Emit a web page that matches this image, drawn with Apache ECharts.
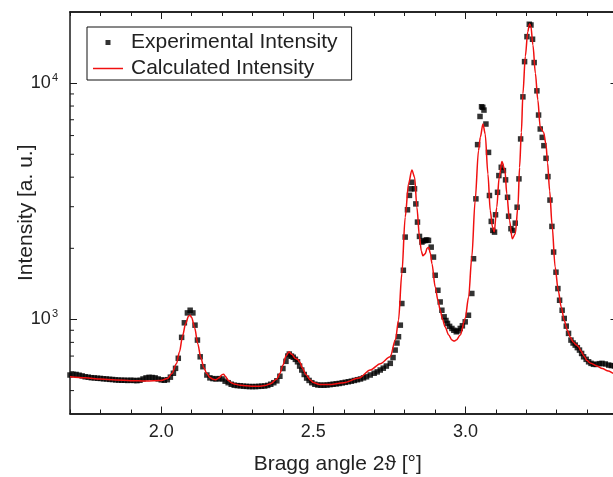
<!DOCTYPE html>
<html><head><meta charset="utf-8">
<script src="https://cdn.jsdelivr.net/npm/echarts@6/dist/echarts.min.js"></script>
<style>html,body{margin:0;padding:0;background:#fff}#c{width:613px;height:477px}</style>
</head><body><div id="c"></div>
<script>
const xMin = 1.7, xMax = 3.5, yMin = 400, yMax = 20000;
const xMajorTicks = [2.0, 2.5, 3.0, 3.5];
const xTickLabels = [2.0, 2.5, 3.0];
const yMinorTicks = [500,600,700,800,900,2000,3000,4000,5000,6000,7000,8000,9000];
const seriesNames = ['Experimental Intensity', 'Calculated Intensity'];
const xTitle = 'Bragg angle 2\u03d1 [\u00b0]';
const yTitle = 'Intensity [a. u.]';

const experimental = [
[1.70,582],[1.71,586],[1.72,585],[1.73,581],[1.74,577],[1.75,572],[1.76,570],[1.77,567],[1.78,566],[1.79,564],
[1.80,563],[1.81,561],[1.82,560],[1.83,558],[1.84,557],[1.85,555],[1.86,554],[1.87,553],[1.88,553],[1.89,552],
[1.90,553],[1.91,552],[1.92,551],[1.93,553],[1.94,560],[1.95,566],[1.96,569],[1.97,568],[1.98,566],[1.99,560],
[2.00,555],[2.01,553],[2.02,556],[2.03,570],[2.04,592],[2.047,621],[2.056,685],[2.067,840],[2.076,968],[2.086,1066],
[2.095,1094],[2.104,1066],[2.111,946],[2.119,818],[2.128,695],[2.137,631],[2.15,582],[2.16,566],[2.17,562],[2.18,560],
[2.19,562],[2.20,560],[2.21,548],[2.22,540],[2.23,532],[2.24,527],[2.25,525],[2.26,524],[2.27,522],[2.28,521],
[2.29,520],[2.30,520],[2.31,520],[2.32,521],[2.33,522],[2.34,523],[2.35,526],[2.36,532],[2.37,540],[2.38,550],
[2.39,575],[2.40,620],[2.41,665],[2.416,700],[2.421,714],[2.428,700],[2.434,692],[2.441,678],[2.448,662],[2.455,635],
[2.462,611],[2.47,585],[2.478,565],[2.486,552],[2.495,540],[2.505,532],[2.515,528],[2.525,527],[2.535,527],[2.545,528],
[2.555,530],[2.565,532],[2.575,534],[2.585,536],[2.595,539],[2.605,542],[2.615,545],[2.625,548],[2.635,552],[2.645,556],
[2.655,560],[2.665,566],[2.675,572],[2.687,582],[2.70,592],[2.71,600],[2.72,611],[2.73,622],[2.74,635],[2.753,652],
[2.762,690],[2.769,742],[2.775,795],[2.78,845],[2.786,946],[2.791,1168],[2.796,1615],[2.802,2231],[2.8095,2911],[2.816,3350],
[2.8207,3571],[2.824,3807],[2.8326,3571],[2.837,3083],[2.8424,2582],[2.849,2246],[2.857,2125],[2.862,2150],[2.868,2161],[2.873,2170],
[2.8786,2161],[2.8875,2023],[2.895,1836],[2.9007,1538],[2.9095,1329],[2.917,1186],[2.9226,1094],[2.93,1026],[2.936,990],[2.941,962],
[2.948,935],[2.9556,916],[2.962,900],[2.97,887],[2.976,895],[2.983,916],[2.99,940],[2.9993,977],[3.01,1042],[3.021,1288],
[3.0267,1807],[3.0345,3239],[3.04,5493],[3.048,7228],[3.053,7943],[3.057,7900],[3.061,7691],[3.0674,6714],[3.076,5093],[3.079,3346],
[3.085,2600],[3.09,2381],[3.0957,2342],[3.099,2773],[3.1056,3452],[3.11,4063],[3.1178,4405],[3.125,4266],[3.132,3897],[3.1385,3288],
[3.142,2735],[3.1497,2421],[3.156,2381],[3.1638,2556],[3.17,2985],[3.176,3935],[3.1815,5806],[3.189,8750],[3.1945,12330],[3.2023,15730],
[3.21,17750],[3.2155,17620],[3.2207,15340],[3.226,12220],[3.235,9278],[3.2405,7328],[3.246,6397],[3.2526,5896],[3.258,5437],[3.265,4808],
[3.2713,4023],[3.278,3200],[3.2844,2476],[3.29,1928],[3.2977,1585],[3.304,1351],[3.3096,1206],[3.318,1094],[3.325,1010],[3.3316,937],
[3.339,873],[3.347,818],[3.354,795],[3.361,779],[3.368,760],[3.375,742],[3.382,718],[3.3885,695],[3.397,678],[3.405,662],
[3.413,652],[3.421,646],[3.43,645],[3.44,650],[3.449,652],[3.46,648],[3.471,641],[3.48,638],[3.49,636]
];

const calculated = [
[1.70,572],[1.75,566],[1.80,560],[1.85,555],[1.90,551],[1.95,549],[2.00,552],[2.02,562],[2.035,590],[2.05,650],
[2.06,730],[2.07,850],[2.08,960],[2.09,1035],[2.095,1042],[2.10,1020],[2.11,920],[2.12,790],[2.13,690],[2.14,625],
[2.15,590],[2.16,568],[2.17,558],[2.18,556],[2.19,566],[2.20,584],[2.205,587],[2.21,576],[2.22,553],[2.23,540],
[2.24,533],[2.26,527],[2.28,524],[2.30,522],[2.32,522],[2.34,525],[2.36,535],[2.38,560],[2.39,590],[2.40,640],
[2.41,700],[2.42,730],[2.43,710],[2.44,685],[2.448,678],[2.455,660],[2.465,620],[2.475,585],[2.49,555],[2.50,541],
[2.52,531],[2.55,530],[2.60,540],[2.65,565],[2.687,611],[2.72,650],[2.7526,695],[2.77,820],[2.78,993],[2.791,1563],
[2.802,2710],[2.813,3750],[2.824,4295],[2.833,3997],[2.8405,2985],[2.849,2231],[2.855,1950],[2.86,1860],[2.868,1899],[2.874,2000],
[2.879,2023],[2.885,1900],[2.89,1722],[2.9007,1373],[2.91,1200],[2.917,1094],[2.925,1000],[2.933,931],[2.945,860],[2.9556,818],
[2.963,810],[2.97,818],[2.983,859],[2.9993,1010],[3.0105,1245],[3.021,1836],[3.032,3189],[3.043,5176],[3.049,5900],[3.0576,6714],
[3.065,6095],[3.074,4130],[3.0816,2891],[3.089,2460],[3.0947,2342],[3.103,2985],[3.111,3997],[3.12,4656],[3.13,4266],[3.136,3404],
[3.145,2624],[3.154,2197],[3.164,2306],[3.1727,3000],[3.178,4400],[3.184,6200],[3.189,9000],[3.197,13000],[3.205,16500],[3.2105,17800],
[3.215,17500],[3.222,14500],[3.23,11000],[3.238,8500],[3.246,6500],[3.257,6200],[3.265,5500],[3.27,4600],[3.277,3500],[3.285,2500],
[3.295,1667],[3.305,1330],[3.315,1130],[3.325,990],[3.335,900],[3.345,840],[3.355,800],[3.365,780],[3.372,766],[3.38,735],
[3.39,700],[3.40,670],[3.41,655],[3.4325,635],[3.45,620],[3.47,605],[3.487,591],[3.5,582]
];

const FONT = "'Liberation Sans', Arial, sans-serif";
const AX = '#1a1a1a';
const TXT = '#222';
const RED = '#f01010';

function xAxisDef(pos, major) {
  const a = {
    type: 'value', position: pos, min: xMin, max: xMax,
    axisLine: { show: true, onZero: false, lineStyle: { color: AX, width: 1.5 } },
    splitLine: { show: false },
    axisLabel: { show: false },
    axisTick: { show: true, inside: true, length: major ? 7 : 4, lineStyle: { color: AX, width: 1 } }
  };
  if (major) {
    a.axisTick.customValues = xMajorTicks;
  } else {
    a.interval = 0.1;
  }
  return a;
}

const xAxes = [xAxisDef('bottom', true), xAxisDef('bottom', false), xAxisDef('top', true), xAxisDef('top', false)];
xAxes[0].axisLabel = {
  show: true, customValues: xTickLabels, margin: 10,
  fontFamily: FONT, fontSize: 18, color: TXT,
  formatter: v => v.toFixed(1)
};
xAxes[0].name = xTitle;
xAxes[0].nameLocation = 'middle';
xAxes[0].nameGap = 40;
xAxes[0].nameMoveOverlap = false;
xAxes[0].nameTextStyle = { fontFamily: FONT, fontSize: 21, color: TXT, padding: [0, 12, 0, 0] };

function yAxisDef(pos, labels) {
  return {
    type: 'log', logBase: 10, position: pos, min: yMin, max: yMax,
    axisLine: { show: true, onZero: false, lineStyle: { color: AX, width: 1.5 } },
    splitLine: { show: false },
    minorTick: { show: false },
    axisTick: { show: true, inside: true, length: 7, lineStyle: { color: AX, width: 1 } },
    axisLabel: labels ? {
      show: true, margin: 12, fontFamily: FONT, fontSize: 18, color: TXT,
      showMinLabel: false, showMaxLabel: false,
      formatter: function (v) {
        const l = Math.log10(v); const e = Math.round(l);
        if (Math.abs(l - e) > 1e-6) return '';
        return '10{s|' + e + '}';
      },
      rich: { s: { fontFamily: FONT, fontSize: 11, color: TXT, verticalAlign: 'top', padding: [0, 0, 10, 1] } }
    } : { show: false },
    name: labels ? yTitle : '',
    nameLocation: 'middle', nameGap: 33, nameRotate: 90, nameMoveOverlap: false,
    nameTextStyle: { fontFamily: FONT, fontSize: 21, color: TXT }
  };
}

const chart = echarts.init(document.getElementById('c'), null, { renderer: 'canvas' });
chart.setOption({
  animation: false,
  backgroundColor: '#fff',
  grid: { left: 70, right: -4.5, top: 12, bottom: 63.5, containLabel: false, outerBoundsMode: 'none' },
  xAxis: xAxes,
  yAxis: [yAxisDef('left', true), yAxisDef('right', false)],
  legend: {
    orient: 'vertical', left: 87, top: 27,
    borderColor: '#111', borderWidth: 1, borderRadius: 0,
    padding: [5, 14, 1, 6], itemGap: 5, itemWidth: 30, itemHeight: 14,
    textStyle: { fontFamily: FONT, fontSize: 21, lineHeight: 20, color: TXT, padding: [0, 0, 0, 3] },
    data: [
      { name: seriesNames[0], icon: 'path://M0,0M14,14M4.5,4.5h5v5h-5z', itemStyle: { color: '#000' } },
      { name: seriesNames[1], icon: 'path://M0,0h30v1.5h-30z', itemStyle: { color: RED } }
    ]
  },
  series: [
    {
      name: seriesNames[0], type: 'scatter', xAxisIndex: 0, yAxisIndex: 0,
      symbol: 'rect', symbolSize: 5.5, itemStyle: { color: '#000' },
      data: experimental, z: 2
    },
    {
      name: seriesNames[1], type: 'line', xAxisIndex: 0, yAxisIndex: 0,
      showSymbol: false, symbol: 'none', smooth: 0.3, smoothMonotone: 'x',
      lineStyle: { color: RED, width: 1.5 }, itemStyle: { color: RED },
      data: calculated, z: 3
    },
    {
      type: 'custom', xAxisIndex: 0, yAxisIndex: 0, silent: true, z: 4,
      data: yMinorTicks.map(v => [xMin, v]),
      renderItem: function (params, api) {
        const v = api.value(1);
        const l = api.coord([xMin, v]);
        const r = api.coord([xMax, v]);
        return { type: 'group', children: [
          { type: 'line', shape: { x1: l[0], y1: l[1], x2: l[0] + 4, y2: l[1] }, style: { stroke: AX, lineWidth: 1 } },
          { type: 'line', shape: { x1: r[0] - 4, y1: r[1], x2: r[0], y2: r[1] }, style: { stroke: AX, lineWidth: 1 } }
        ] };
      }
    }
  ]
});
</script>
</body></html>
